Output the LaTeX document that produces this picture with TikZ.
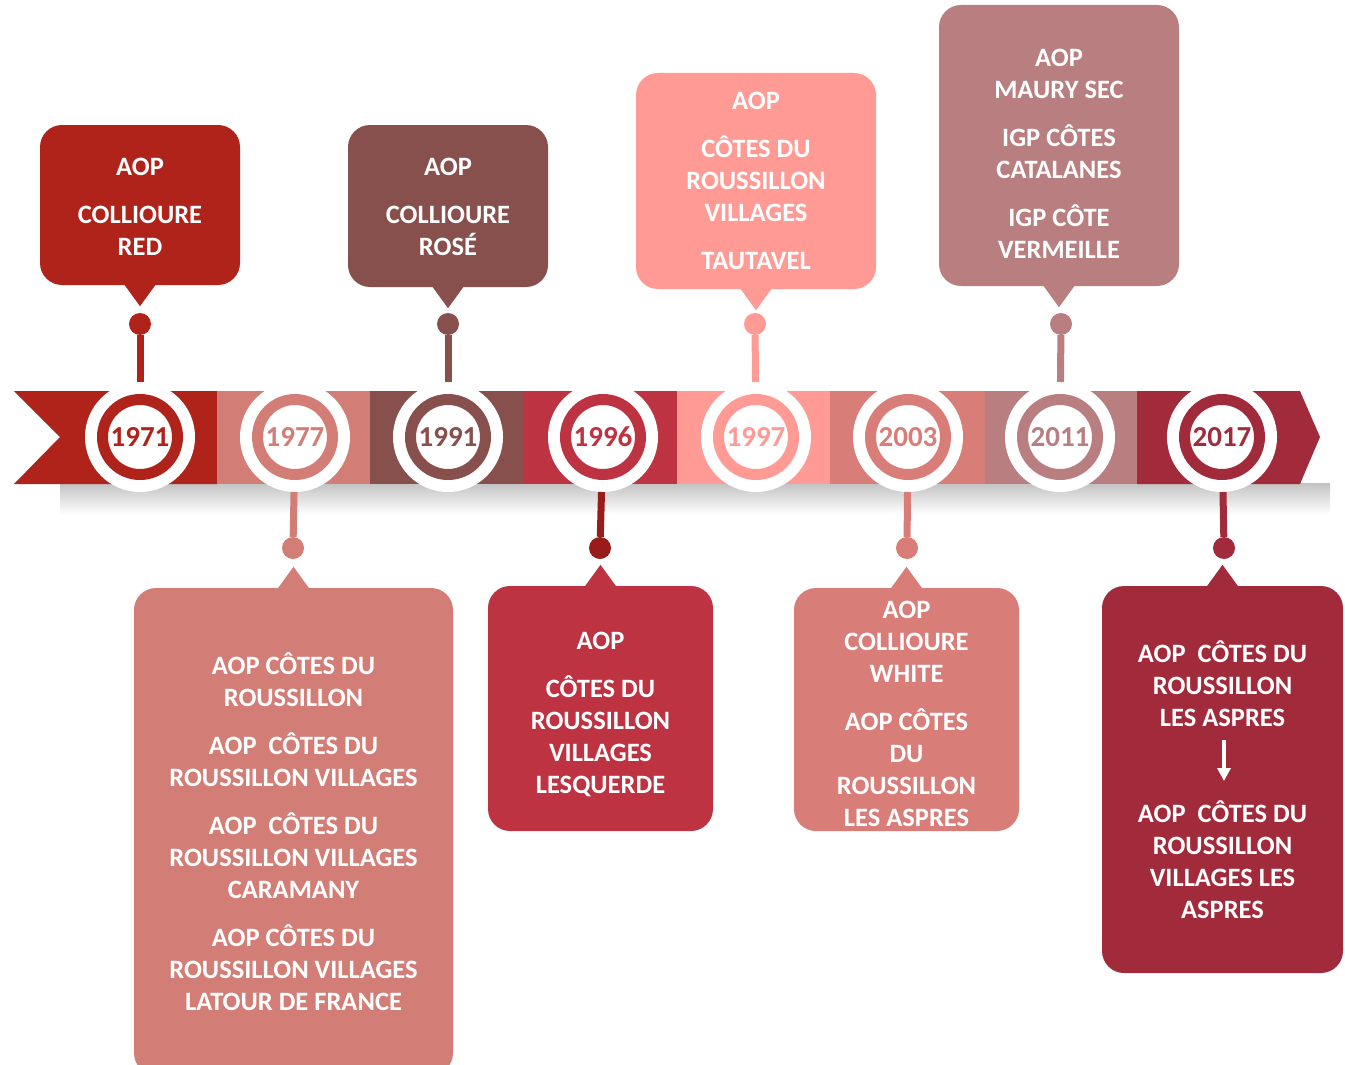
\documentclass[tikz,border=0pt]{standalone}
\usepackage{fontspec}
\setmainfont{Carlito}
\usetikzlibrary{calc,arrows.meta}

\definecolor{c1971}{HTML}{B0231B}
\definecolor{c1977}{HTML}{D27E77}
\definecolor{c1991}{HTML}{88504C}
\definecolor{c1996}{HTML}{BE3341}
\definecolor{c1997}{HTML}{FF9A94}
\definecolor{c2003}{HTML}{D97D79}
\definecolor{c2011}{HTML}{B87E80}
\definecolor{c2017}{HTML}{A22B3B}
\definecolor{s1996}{HTML}{971C1A}

\begin{document}
\begin{tikzpicture}[x=1pt,y=-1pt,
    font=\bfseries\fontsize{26.5}{32}\selectfont,
    yearring/.style={circle,fill=white,draw=#1,line width=11pt,minimum size=75pt,
      inner sep=0pt,outer sep=17.5pt,text=#1,preaction={draw=white,line width=35pt},
      font=\bfseries\fontsize{29}{30}\selectfont},
    dot/.style={circle,fill=#1,minimum size=22pt,inner sep=0pt},
    stem/.style={draw=#1,line width=7pt},
    infobox/.style={fill=#1,text=white,rounded corners=22pt,align=center,inner sep=0pt}]
  \useasboundingbox (0,0) rectangle (1345,1065);
  \clip (0,0) rectangle (1345,1065);

  % band
  \shade[top color=black!24,bottom color=white] (60,483) rectangle (1330,514);
  \fill[c1971] (14,391) -- (217,391) -- (217,484) -- (14,484) -- (60,437) -- cycle;
  \fill[c1977] (217,391) rectangle (370,484);
  \fill[c1991] (370,391) rectangle (523,484);
  \fill[c1996] (523,391) rectangle (677,484);
  \fill[c1997] (677,391) rectangle (830,484);
  \fill[c2003] (830,391) rectangle (985,484);
  \fill[c2011] (985,391) rectangle (1137,484);
  \fill[c2017] (1137,391) -- (1300,391) -- (1320,437) -- (1300,484) -- (1137,484) -- cycle;

  % years
  \node[yearring=c1971] (y1971) at (140,437)  {1971};
  \node[yearring=c1977] (y1977) at (295,437)  {1977};
  \node[yearring=c1991] (y1991) at (448,437)  {1991};
  \node[yearring=c1996] (y1996) at (603,437)  {1996};
  \node[yearring=c1997] (y1997) at (756,437)  {1997};
  \node[yearring=c2003] (y2003) at (908,437)  {2003};
  \node[yearring=c2011] (y2011) at (1060,437) {2011};
  \node[yearring=c2017] (y2017) at (1222,437) {2017};

  % dots
  \node[dot=c1971] (d1971) at (140,324)  {};
  \node[dot=c1991] (d1991) at (448,324)  {};
  \node[dot=c1997] (d1997) at (755,324)  {};
  \node[dot=c2011] (d2011) at (1061,324) {};
  \node[dot=c1977] (d1977) at (293,548)  {};
  \node[dot=s1996] (d1996) at (600,548)  {};
  \node[dot=c2003] (d2003) at (907,548)  {};
  \node[dot=c2017] (d2017) at (1224,548) {};

  \path[stem=c1971] (y1971) -- (d1971);
  \path[stem=c1991] (y1991) -- (d1991);
  \path[stem=c1997] (y1997) -- (d1997);
  \path[stem=c2011] (y2011) -- (d2011);
  \path[stem=c1977] (y1977) -- (d1977);
  \path[stem=s1996] (y1996) -- (d1996);
  \path[stem=c2003] (y2003) -- (d2003);
  \path[stem=c2017] (y2017) -- (d2017);

  % boxes above
  \node[infobox=c1971,minimum width=200pt,minimum height=160pt] (b1971) at (140,205)
    {\rule{0pt}{20pt}AOP\\[16pt]COLLIOURE\\RED};
  \node[infobox=c1991,minimum width=200pt,minimum height=162pt] (b1991) at (448,206)
    {\rule{0pt}{20pt}AOP\\[16pt]COLLIOURE\\ROSÉ};
  \node[infobox=c1997,minimum width=240pt,minimum height=216pt] (b1997) at (756,181)
    {AOP\\[16pt]CÔTES DU\\ROUSSILLON\\VILLAGES\\[16pt]TAUTAVEL};
  \node[infobox=c2011,minimum width=240pt,minimum height=281pt] (b2011) at (1059,145.5)
    {\rule{0pt}{34pt}AOP\\MAURY SEC\\[16pt]IGP CÔTES\\CATALANES\\[16pt]IGP CÔTE\\VERMEILLE};
  \foreach \b in {1971,1991,1997,2011}
    \fill[c\b] (b\b.south) ++(-16,-1) -- ++(32,0) -- ++(-16,22) -- cycle;

  % boxes below
  \node[infobox=c1977,minimum width=319pt,minimum height=487pt] (b1977) at (293.5,831.5)
    {AOP CÔTES DU\\ROUSSILLON\\[16pt]AOP\ \ CÔTES DU\\ROUSSILLON VILLAGES\\[16pt]%
     AOP\ \ CÔTES DU\\ROUSSILLON VILLAGES\\CARAMANY\\[16pt]AOP CÔTES DU\\%
     ROUSSILLON VILLAGES\\LATOUR DE FRANCE};
  \node[infobox=c1996,minimum width=225pt,minimum height=245pt] (b1996) at (600.5,708.5)
    {\rule{0pt}{30pt}AOP\\[16pt]CÔTES DU\\ROUSSILLON\\VILLAGES\\LESQUERDE};
  \node[infobox=c2003,minimum width=225pt,minimum height=243pt] (b2003) at (906.5,709.5)
    {\rule{0pt}{26pt}AOP\\COLLIOURE\\WHITE\\[16pt]AOP CÔTES\\DU\\ROUSSILLON\\LES ASPRES};
  \node[infobox=c2017,minimum width=241pt,minimum height=387pt] (b2017) at (1222.5,779.5)
    {AOP\ \ CÔTES DU\\ROUSSILLON\\LES ASPRES\\[64pt]AOP\ \ CÔTES DU\\ROUSSILLON\\%
     VILLAGES LES\\ASPRES};
  \foreach \b in {1977,1996,2003,2017}
    \fill[c\b] (b\b.north) ++(-16,1) -- ++(32,0) -- ++(-16,-22) -- cycle;

  % change of name
  \coordinate (a1) at (1224,740);
  \coordinate (a2) at (1224,781);
  \draw[white,line width=3.5pt,-{Triangle[width=13pt,length=13pt]}] (a1) -- (a2);
\end{tikzpicture}
\end{document}
